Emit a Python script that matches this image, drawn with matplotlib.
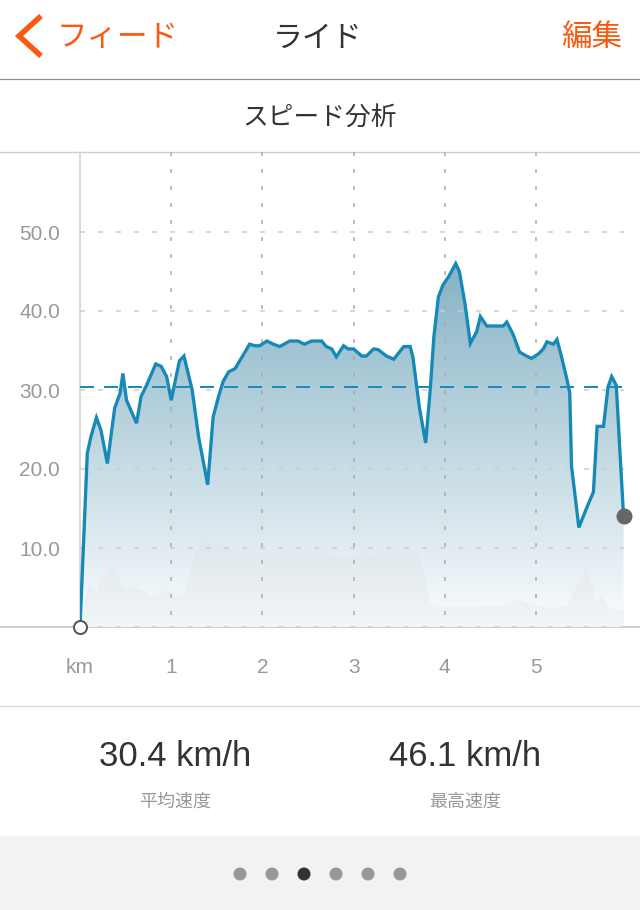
import matplotlib
matplotlib.use('Agg')
import matplotlib.pyplot as plt
import numpy as np
from matplotlib.colors import LinearSegmentedColormap

plt.rcParams['lines.scale_dashes'] = False
plt.rcParams['font.family'] = ['Noto Sans CJK JP', 'DejaVu Sans']

# ---------------- data ----------------
speed_km = [0, 0.08, 0.12, 0.18, 0.23, 0.30, 0.38, 0.44, 0.47, 0.51, 0.62, 0.67, 0.73, 0.83,
            0.89, 0.95, 1.00, 1.09, 1.14, 1.23, 1.30, 1.40, 1.46, 1.52, 1.57, 1.63, 1.70, 1.86,
            1.92, 1.97, 2.05, 2.12, 2.19, 2.30, 2.39, 2.46, 2.54, 2.65, 2.70, 2.76, 2.81, 2.89,
            2.94, 3.00, 3.09, 3.14, 3.22, 3.27, 3.36, 3.44, 3.55, 3.62, 3.65, 3.72, 3.79, 3.84,
            3.88, 3.93, 3.98, 4.04, 4.12, 4.16, 4.22, 4.28, 4.35, 4.39, 4.46, 4.64, 4.68, 4.75,
            4.82, 4.88, 4.95, 5.03, 5.08, 5.12, 5.19, 5.23, 5.28, 5.34, 5.37, 5.39, 5.47, 5.56,
            5.63, 5.67, 5.74, 5.79, 5.83, 5.88, 5.96]
speed_kmh = [0, 22.0, 24.1, 26.5, 24.9, 20.7, 27.7, 29.6, 32.1, 28.7, 25.8, 29.2, 30.6, 33.3,
             33.0, 31.7, 28.7, 33.7, 34.3, 30.0, 24.1, 18.0, 26.6, 29.2, 31.1, 32.3, 32.7, 35.8,
             35.6, 35.6, 36.2, 35.8, 35.5, 36.2, 36.2, 35.8, 36.2, 36.2, 35.5, 35.2, 34.2, 35.6,
             35.2, 35.2, 34.3, 34.3, 35.2, 35.1, 34.3, 33.9, 35.5, 35.5, 34.2, 27.9, 23.3, 30.0,
             36.7, 41.8, 43.3, 44.3, 46.0, 45.0, 41.0, 35.9, 37.4, 39.3, 38.1, 38.1, 38.6, 37.0,
             34.8, 34.4, 34.0, 34.6, 35.2, 36.1, 35.8, 36.4, 34.2, 31.3, 29.6, 20.3, 12.6, 15.2,
             17.1, 25.4, 25.4, 30.4, 31.7, 30.6, 14.0]

bg_km = [0, 0.09, 0.13, 0.18, 0.24, 0.29, 0.36, 0.44, 0.46, 0.62, 0.68, 0.82, 0.91, 0.99,
         1.08, 1.15, 1.21, 1.26, 1.39, 1.44, 1.52, 1.61, 1.70, 1.77, 1.86, 1.92, 1.97, 2.05,
         2.21, 2.43, 2.65, 2.78, 3.02, 3.07, 3.25, 3.31, 3.38, 3.55, 3.67, 3.73, 3.78, 3.84,
         3.95, 4.35, 4.61, 4.82, 4.97, 5.15, 5.34, 5.45, 5.54, 5.59, 5.65, 5.72, 5.79, 5.92, 5.96]
bg_val = [0, 5.5, 5.3, 4.5, 6.2, 6.6, 8.1, 5.9, 5.1, 4.9, 4.6, 3.8, 4.7, 4.5,
          3.8, 4.5, 7.2, 9.5, 10.9, 10.2, 10.5, 10.0, 10.0, 9.5, 9.3, 10.0, 9.3, 9.3,
          9.4, 9.2, 9.4, 9.0, 9.0, 9.3, 9.1, 9.5, 9.1, 9.7, 9.8, 8.9, 5.9, 3.0,
          2.6, 2.6, 2.8, 3.5, 2.8, 2.5, 2.8, 5.5, 7.6, 6.2, 3.4, 3.9, 2.4, 2.2, 2.2]

avg_speed = 30.4
max_speed = 46.1
y_ticks = [10, 20, 30, 40, 50]
x_ticks = [0, 1, 2, 3, 4, 5]
x_tick_labels = ['km', '1', '2', '3', '4', '5']

header_back = 'フィード'
header_title = 'ライド'
header_edit = '編集'
section_title = 'スピード分析'
stat_labels = ['平均速度', '最高速度']
page_count = 6
page_active = 2

# ---------------- layout ----------------
W, H = 640, 910
PX = 0.72
orange = '#f95a12'
dark = '#333333'
grey_txt = '#999999'
num_font = 'Liberation Sans'

fig = plt.figure(figsize=(6.4, 9.1), dpi=100)
fig.patch.set_facecolor('white')
bg = fig.add_axes([0, 0, 1, 1])
bg.set_xlim(0, W)
bg.set_ylim(H, 0)
bg.axis('off')

# header
bg.plot([41, 19, 41], [16, 36, 56], color=orange, lw=5.5 * PX,
        solid_joinstyle='miter', solid_capstyle='butt')
bg.text(57, 37, header_back, color=orange, fontsize=22, ha='left', va='center')
bg.text(318, 38, header_title, color=dark, fontsize=21.5, ha='center', va='center')
bg.text(622, 37, header_edit, color=orange, fontsize=22, ha='right', va='center')
bg.plot([0, W], [79, 79], color='#8e8e8e', lw=1.2 * PX)
bg.text(320, 118, section_title, color=dark, fontsize=18.5, ha='center', va='center')
bg.plot([0, W], [152, 152], color='#cccccc', lw=1.3 * PX)
bg.plot([0, W], [627, 627], color='#bdbdbd', lw=1.5 * PX)
bg.plot([0, W], [706, 706], color='#d6d6d6', lw=1.3 * PX)

# stats
stat_vals = [avg_speed, max_speed]
for cx, v, lab in zip([175, 465], stat_vals, stat_labels):
    bg.text(cx, 756, f'{v:.1f} km/h', color=dark, fontsize=25, ha='center', va='center',
            family=num_font)
    bg.text(cx, 802, lab, color=grey_txt, fontsize=13, ha='center', va='center')

# pager
bg.add_patch(plt.Rectangle((0, 836), W, H - 836, color='#f2f2f2', lw=0))
for i in range(page_count):
    c = '#333333' if i == page_active else '#999999'
    bg.add_patch(plt.Circle((240 + 32 * i, 874), 6.5, color=c, lw=0))

# ---------------- chart ----------------
X0, XPK = 80, 91.2
Y0, YPU, YT = 627, 7.9, 152
ax = fig.add_axes([X0 / W, 1 - Y0 / H, (W - X0) / W, (Y0 - YT) / H])
ax.patch.set_alpha(0)
xmax = (W - X0) / XPK
ymax = (Y0 - YT) / YPU
x_end = speed_km[-1]

poly = ax.fill_between(speed_km, speed_kmh, 0, facecolor='none', edgecolor='none')
grad = np.linspace(0, 1, 256).reshape(-1, 1)
cmap = LinearSegmentedColormap.from_list('g', ['#fafcfd', '#86b3c6'])
im = ax.imshow(grad, extent=[0, x_end, 0, max(speed_kmh)], origin='lower',
               aspect='auto', cmap=cmap, zorder=1, interpolation='bilinear')
im.set_clip_path(poly.get_paths()[0], transform=ax.transData)

ax.fill_between(bg_km, bg_val, 0, color='#d9dcdd', alpha=0.2, lw=0, zorder=2)

ax.hlines([0] + y_ticks, 0, x_end, colors='#cccccc', lw=1.5 * PX,
          linestyles=[(0, (5 * PX, 13 * PX))], zorder=3)
ax.vlines(x_ticks[1:], ymax, 0, colors='#aaaaaa', lw=1.5 * PX,
          linestyles=[(0, (4 * PX, 13 * PX))], zorder=3)
ax.hlines(avg_speed, 0, x_end, colors='#1b8dbb', lw=2 * PX,
          linestyles=[(0, (14 * PX, 10 * PX))], zorder=4)
ax.plot(speed_km, speed_kmh, color='#1789b6', lw=3.3 * PX, zorder=5,
        solid_joinstyle='miter')
ax.plot([speed_km[0]], [speed_kmh[0]], 'o', ms=13 * PX, mfc='white', mec='#555555',
        mew=2 * PX, zorder=6, clip_on=False)
ax.plot([speed_km[-1]], [speed_kmh[-1]], 'o', ms=16 * PX, mfc='#666666', mec='none',
        zorder=6, clip_on=False)

ax.set_xlim(0, xmax)
ax.set_ylim(0, ymax)
for s in ['top', 'right', 'bottom']:
    ax.spines[s].set_visible(False)
ax.spines['left'].set_color('#d0d0d0')
ax.spines['left'].set_linewidth(1.5 * PX)
ax.spines['left'].set_zorder(2.5)

ax.set_yticks(y_ticks, labels=[f'{v:.1f}' for v in y_ticks])
ax.set_xticks(x_ticks, labels=x_tick_labels)
ax.tick_params(axis='y', length=0, pad=20 * PX, labelsize=15, labelcolor=grey_txt)
ax.tick_params(axis='x', length=0, pad=31 * PX, labelsize=15, labelcolor=grey_txt)
for lbl in ax.get_yticklabels() + ax.get_xticklabels():
    lbl.set_family(num_font)

fig.savefig('out.png', dpi=100, facecolor='white')
